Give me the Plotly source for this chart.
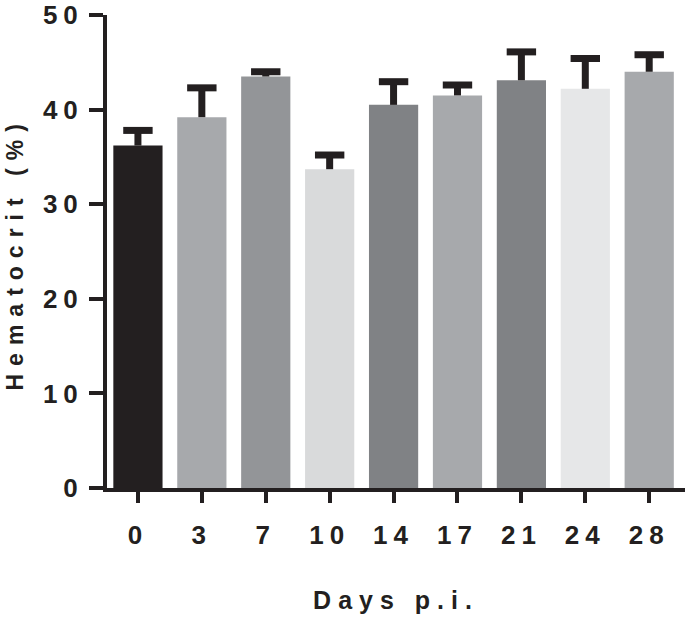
import plotly.graph_objects as go

days = ["0", "3", "7", "10", "14", "17", "21", "24", "28"]
hematocrit = [36.2, 39.2, 43.5, 33.7, 40.5, 41.5, 43.1, 42.2, 44.0]
sem = [1.6, 3.1, 0.5, 1.5, 2.45, 1.1, 3.0, 3.2, 1.8]
bar_colors = ["#231f20", "#a7a9ac", "#939598", "#d9dadb", "#808285",
              "#a7a9ac", "#808285", "#e6e7e8", "#a7a9ac"]
y_ticks = [0, 10, 20, 30, 40, 50]

ink = "#231f20"
font_family = "Liberation Sans, Arial, sans-serif"

fig = go.Figure()
fig.add_trace(go.Bar(
    x=days, y=hematocrit,
    marker=dict(color=bar_colors, line=dict(width=0)),
    error_y=dict(type="data", array=sem, arrayminus=[0] * len(sem),
                 symmetric=False, width=0, thickness=7, color=ink),
    showlegend=False,
))
fig.add_trace(go.Scatter(
    x=days, y=[v + e for v, e in zip(hematocrit, sem)],
    mode="markers",
    marker=dict(symbol="line-ew", size=21, color=ink,
                line=dict(width=7, color=ink)),
    showlegend=False, hoverinfo="skip",
))

fig.update_layout(
    width=685, height=618,
    margin=dict(l=107, r=0, t=10, b=130),
    paper_bgcolor="white", plot_bgcolor="white",
    bargap=0.23,
    font=dict(family=font_family, size=26, color=ink, weight="bold"),
    annotations=[dict(
        text="Hematocrit (%)", textangle=-90,
        xref="paper", yref="paper", x=0, y=0.5,
        xanchor="center", yanchor="middle", xshift=-93, yshift=-2,
        showarrow=False, font=dict(size=23, weight="bold", color=ink),
    )],
)
fig.update_xaxes(
    type="category", range=[-0.484, 8.56],
    showline=True, linecolor=ink, linewidth=4,
    ticks="outside", ticklen=11, tickwidth=4, tickcolor=ink,
    tickfont=dict(size=26, weight="bold"), ticklabelstandoff=10,
    showgrid=False, zeroline=False,
    title=dict(text="Days p.i.", font=dict(size=25, weight="bold"), standoff=43),
)
fig.update_yaxes(
    range=[0, 50], tickvals=y_ticks,
    showline=True, linecolor=ink, linewidth=4,
    ticks="outside", ticklen=14, tickwidth=4, tickcolor=ink,
    tickfont=dict(size=26, weight="bold"),
    ticklabeloverflow="allow",
    showgrid=False, zeroline=False,
)

post = """
document.body.style.margin='0';
var s=document.createElement('style');
s.textContent='body{margin:0;} .xtick text,.ytick text{letter-spacing:6px;} .g-xtitle text{letter-spacing:7px;} .annotation-text{letter-spacing:8px;}';
document.head.appendChild(s);
"""
fig.write_html("out.html", post_script=post, config={"displayModeBar": False})
